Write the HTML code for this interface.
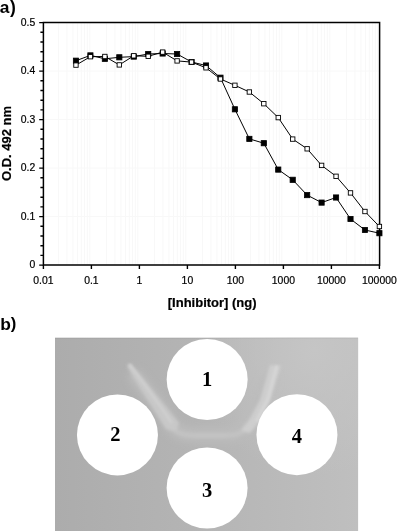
<!DOCTYPE html>
<html><head><meta charset="utf-8"><title>Figure</title>
<style>
html,body{margin:0;padding:0;background:#fff;}
body{width:397px;height:531px;overflow:hidden;position:relative;}
svg{position:absolute;left:0;top:0;display:block;}
text{font-family:"Liberation Sans",Arial,sans-serif;}
.num{font-size:10.4px;fill:#000;stroke:#000;stroke-width:0.2px;}
.ttl{font-size:13px;font-weight:bold;fill:#000;stroke:#000;stroke-width:0.2px;}
.lab{font-size:17.4px;font-weight:bold;fill:#000;}
.par{font-size:17.5px;font-weight:bold;}
.well{font-family:"Liberation Serif","Times New Roman",serif;font-size:20.5px;font-weight:bold;fill:#000;}
</style></head><body>
<svg width="397" height="531" viewBox="0 0 397 531">
<defs>
<linearGradient id="bg" x1="0" y1="0" x2="1" y2="0">
<stop offset="0" stop-color="#acacac"/><stop offset="0.45" stop-color="#b4b4b4"/><stop offset="0.8" stop-color="#bbbbbb"/><stop offset="1" stop-color="#bfbfbf"/>
</linearGradient>
<radialGradient id="tr" cx="315" cy="350" r="125" gradientUnits="userSpaceOnUse">
<stop offset="0" stop-color="#c5c5c5" stop-opacity="1"/><stop offset="0.4" stop-color="#c5c5c5" stop-opacity="0.6"/><stop offset="1" stop-color="#c6c6c6" stop-opacity="0"/>
</radialGradient>
<filter id="blur4" x="-30%" y="-30%" width="160%" height="160%"><feGaussianBlur stdDeviation="3.5"/></filter>
<filter id="blur15" x="-30%" y="-30%" width="160%" height="160%"><feGaussianBlur stdDeviation="1.4"/></filter>
<filter id="blur1" x="-30%" y="-30%" width="160%" height="160%"><feGaussianBlur stdDeviation="1"/></filter>
</defs>

<path d="M58.45 22.60V265.10M66.90 22.60V265.10M72.90 22.60V265.10M77.55 22.60V265.10M81.35 22.60V265.10M84.56 22.60V265.10M87.35 22.60V265.10M89.80 22.60V265.10M106.45 22.60V265.10M114.90 22.60V265.10M120.90 22.60V265.10M125.55 22.60V265.10M129.35 22.60V265.10M132.56 22.60V265.10M135.35 22.60V265.10M137.80 22.60V265.10M154.45 22.60V265.10M162.90 22.60V265.10M168.90 22.60V265.10M173.55 22.60V265.10M177.35 22.60V265.10M180.56 22.60V265.10M183.35 22.60V265.10M185.80 22.60V265.10M202.45 22.60V265.10M210.90 22.60V265.10M216.90 22.60V265.10M221.55 22.60V265.10M225.35 22.60V265.10M228.56 22.60V265.10M231.35 22.60V265.10M233.80 22.60V265.10M250.45 22.60V265.10M258.90 22.60V265.10M264.90 22.60V265.10M269.55 22.60V265.10M273.35 22.60V265.10M276.56 22.60V265.10M279.35 22.60V265.10M281.80 22.60V265.10M298.45 22.60V265.10M306.90 22.60V265.10M312.90 22.60V265.10M317.55 22.60V265.10M321.35 22.60V265.10M324.56 22.60V265.10M327.35 22.60V265.10M329.80 22.60V265.10M346.45 22.60V265.10M354.90 22.60V265.10M360.90 22.60V265.10M365.55 22.60V265.10M369.35 22.60V265.10M372.56 22.60V265.10M375.35 22.60V265.10M377.80 22.60V265.10M43.40 216.60H379.40M43.40 168.10H379.40M43.40 119.60H379.40M43.40 71.10H379.40" stroke="#f8f8f8" stroke-width="1" fill="none"/>
<path d="M43.40 21.85V265.85M42.65 265.10H380.35M42.65 22.60H380.35M379.60 21.85V265.85" fill="none" stroke="#000" stroke-width="1.5"/>
<polyline points="75.96,60.70 90.41,55.40 104.86,58.80 119.31,57.30 133.76,56.60 148.21,54.00 162.66,53.50 177.11,54.00 191.56,62.00 206.01,65.50 220.46,77.70 234.91,109.30 249.36,138.90 263.80,143.20 278.25,169.60 292.70,179.80 307.15,195.10 321.60,202.60 336.05,197.50 350.50,219.00 364.95,230.00 379.40,233.20" fill="none" stroke="#000" stroke-width="1"/>
<polyline points="75.96,65.10 90.41,56.70 104.86,56.50 119.31,64.90 133.76,55.80 148.21,56.30 162.66,52.10 177.11,60.90 191.56,62.10 206.01,67.80 220.46,79.00 234.91,85.30 249.36,92.00 263.80,103.70 278.25,117.60 292.70,139.10 307.15,148.80 321.60,165.40 336.05,176.30 350.50,192.90 364.95,211.50 379.40,226.50" fill="none" stroke="#000" stroke-width="1"/>
<rect x="73.36" y="58.10" width="5.2" height="5.2" fill="#000" stroke="#000" stroke-width="0.8"/>
<rect x="87.81" y="52.80" width="5.2" height="5.2" fill="#000" stroke="#000" stroke-width="0.8"/>
<rect x="102.26" y="56.20" width="5.2" height="5.2" fill="#000" stroke="#000" stroke-width="0.8"/>
<rect x="116.71" y="54.70" width="5.2" height="5.2" fill="#000" stroke="#000" stroke-width="0.8"/>
<rect x="131.16" y="54.00" width="5.2" height="5.2" fill="#000" stroke="#000" stroke-width="0.8"/>
<rect x="145.61" y="51.40" width="5.2" height="5.2" fill="#000" stroke="#000" stroke-width="0.8"/>
<rect x="160.06" y="50.90" width="5.2" height="5.2" fill="#000" stroke="#000" stroke-width="0.8"/>
<rect x="174.51" y="51.40" width="5.2" height="5.2" fill="#000" stroke="#000" stroke-width="0.8"/>
<rect x="188.96" y="59.40" width="5.2" height="5.2" fill="#000" stroke="#000" stroke-width="0.8"/>
<rect x="203.41" y="62.90" width="5.2" height="5.2" fill="#000" stroke="#000" stroke-width="0.8"/>
<rect x="217.86" y="75.10" width="5.2" height="5.2" fill="#000" stroke="#000" stroke-width="0.8"/>
<rect x="232.31" y="106.70" width="5.2" height="5.2" fill="#000" stroke="#000" stroke-width="0.8"/>
<rect x="246.76" y="136.30" width="5.2" height="5.2" fill="#000" stroke="#000" stroke-width="0.8"/>
<rect x="261.20" y="140.60" width="5.2" height="5.2" fill="#000" stroke="#000" stroke-width="0.8"/>
<rect x="275.65" y="167.00" width="5.2" height="5.2" fill="#000" stroke="#000" stroke-width="0.8"/>
<rect x="290.10" y="177.20" width="5.2" height="5.2" fill="#000" stroke="#000" stroke-width="0.8"/>
<rect x="304.55" y="192.50" width="5.2" height="5.2" fill="#000" stroke="#000" stroke-width="0.8"/>
<rect x="319.00" y="200.00" width="5.2" height="5.2" fill="#000" stroke="#000" stroke-width="0.8"/>
<rect x="333.45" y="194.90" width="5.2" height="5.2" fill="#000" stroke="#000" stroke-width="0.8"/>
<rect x="347.90" y="216.40" width="5.2" height="5.2" fill="#000" stroke="#000" stroke-width="0.8"/>
<rect x="362.35" y="227.40" width="5.2" height="5.2" fill="#000" stroke="#000" stroke-width="0.8"/>
<rect x="376.80" y="230.60" width="5.2" height="5.2" fill="#000" stroke="#000" stroke-width="0.8"/>
<rect x="73.76" y="62.90" width="4.40" height="4.40" fill="#fff" stroke="#000" stroke-width="0.9"/>
<rect x="88.21" y="54.50" width="4.40" height="4.40" fill="#fff" stroke="#000" stroke-width="0.9"/>
<rect x="102.66" y="54.30" width="4.40" height="4.40" fill="#fff" stroke="#000" stroke-width="0.9"/>
<rect x="117.11" y="62.70" width="4.40" height="4.40" fill="#fff" stroke="#000" stroke-width="0.9"/>
<rect x="131.56" y="53.60" width="4.40" height="4.40" fill="#fff" stroke="#000" stroke-width="0.9"/>
<rect x="146.01" y="54.10" width="4.40" height="4.40" fill="#fff" stroke="#000" stroke-width="0.9"/>
<rect x="160.46" y="49.90" width="4.40" height="4.40" fill="#fff" stroke="#000" stroke-width="0.9"/>
<rect x="174.91" y="58.70" width="4.40" height="4.40" fill="#fff" stroke="#000" stroke-width="0.9"/>
<rect x="189.36" y="59.90" width="4.40" height="4.40" fill="#fff" stroke="#000" stroke-width="0.9"/>
<rect x="203.81" y="65.60" width="4.40" height="4.40" fill="#fff" stroke="#000" stroke-width="0.9"/>
<rect x="218.26" y="76.80" width="4.40" height="4.40" fill="#fff" stroke="#000" stroke-width="0.9"/>
<rect x="232.71" y="83.10" width="4.40" height="4.40" fill="#fff" stroke="#000" stroke-width="0.9"/>
<rect x="247.16" y="89.80" width="4.40" height="4.40" fill="#fff" stroke="#000" stroke-width="0.9"/>
<rect x="261.60" y="101.50" width="4.40" height="4.40" fill="#fff" stroke="#000" stroke-width="0.9"/>
<rect x="276.05" y="115.40" width="4.40" height="4.40" fill="#fff" stroke="#000" stroke-width="0.9"/>
<rect x="290.50" y="136.90" width="4.40" height="4.40" fill="#fff" stroke="#000" stroke-width="0.9"/>
<rect x="304.95" y="146.60" width="4.40" height="4.40" fill="#fff" stroke="#000" stroke-width="0.9"/>
<rect x="319.40" y="163.20" width="4.40" height="4.40" fill="#fff" stroke="#000" stroke-width="0.9"/>
<rect x="333.85" y="174.10" width="4.40" height="4.40" fill="#fff" stroke="#000" stroke-width="0.9"/>
<rect x="348.30" y="190.70" width="4.40" height="4.40" fill="#fff" stroke="#000" stroke-width="0.9"/>
<rect x="362.75" y="209.30" width="4.40" height="4.40" fill="#fff" stroke="#000" stroke-width="0.9"/>
<rect x="377.20" y="224.30" width="4.40" height="4.40" fill="#fff" stroke="#000" stroke-width="0.9"/>
<path d="M39.20 265.10H43.40M40.40 255.40H43.40M40.40 245.70H43.40M40.40 236.00H43.40M40.40 226.30H43.40M39.20 216.60H43.40M40.40 206.90H43.40M40.40 197.20H43.40M40.40 187.50H43.40M40.40 177.80H43.40M39.20 168.10H43.40M40.40 158.40H43.40M40.40 148.70H43.40M40.40 139.00H43.40M40.40 129.30H43.40M39.20 119.60H43.40M40.40 109.90H43.40M40.40 100.20H43.40M40.40 90.50H43.40M40.40 80.80H43.40M39.20 71.10H43.40M40.40 61.40H43.40M40.40 51.70H43.40M40.40 42.00H43.40M40.40 32.30H43.40M39.20 22.60H43.40M43.40 265.10V268.90M91.40 265.10V268.90M139.40 265.10V268.90M187.40 265.10V268.90M235.40 265.10V268.90M283.40 265.10V268.90M331.40 265.10V268.90M379.40 265.10V268.90" stroke="#000" stroke-width="1.4" fill="none"/>
<text class="num" x="35.2" y="268.00" text-anchor="end">0</text>
<text class="num" x="35.2" y="219.50" text-anchor="end">0.1</text>
<text class="num" x="35.2" y="171.00" text-anchor="end">0.2</text>
<text class="num" x="35.2" y="122.50" text-anchor="end">0.3</text>
<text class="num" x="35.2" y="74.00" text-anchor="end">0.4</text>
<text class="num" x="35.2" y="25.50" text-anchor="end">0.5</text>
<text class="num" x="43.40" y="284.0" text-anchor="middle">0.01</text>
<text class="num" x="91.40" y="284.0" text-anchor="middle">0.1</text>
<text class="num" x="139.40" y="284.0" text-anchor="middle">1</text>
<text class="num" x="187.40" y="284.0" text-anchor="middle">10</text>
<text class="num" x="235.40" y="284.0" text-anchor="middle">100</text>
<text class="num" x="283.40" y="284.0" text-anchor="middle">1000</text>
<text class="num" x="331.40" y="284.0" text-anchor="middle">10000</text>
<text class="num" x="379.40" y="284.0" text-anchor="middle">100000</text>
<text class="ttl" x="212.2" y="306.6" text-anchor="middle">[Inhibitor] (ng)</text>
<text class="ttl" transform="translate(11.3,143.5) rotate(-90)" text-anchor="middle">O.D. 492 nm</text>
<text class="lab" x="-0.3" y="12.6">a<tspan class="par" x="10.0" y="13.0">)</tspan></text>
<text class="lab" x="0.2" y="329.8">b<tspan class="par" x="10.7" y="329.0" style="font-size:16.6px">)</tspan></text>
<rect x="55.0" y="337.7" width="303.1" height="194" fill="url(#bg)"/>
<rect x="55.0" y="337.7" width="303.1" height="194" fill="url(#tr)"/>
<rect x="55.0" y="337.7" width="303.1" height="1" fill="#000" opacity="0.05"/>
<g filter="url(#blur4)" fill="none" stroke-linecap="round" stroke-linejoin="round"><path d="M136 377 C146 390 160 407 172 426 Q178 434 192 435 L228 435 Q242 434 247 426 L252 418 L270 380" stroke="#bcbcbc" stroke-width="14"/></g>
<g filter="url(#blur15)"><path d="M127.5 364 L131 363.5 C144 380 163 403 179 423 L176 432 L166 429 C156 412 142 392 127.5 367 Z" fill="#c8c8c8"/><path d="M270 365 L281 365.5 L270.5 400 L261 420 L250 433 L240 431 L249 420 L260 400 Z" fill="#cecece"/><path d="M176 431 Q182 435.5 195 435.5 L226 435.5 Q238 435.5 243 431" stroke="#c2c2c2" stroke-width="5" fill="none"/></g>
<g filter="url(#blur1)" fill="none" stroke-linecap="round"><path d="M130 365.5 C142 381 159 404 171 422" stroke="#cfcfcf" stroke-width="2.5"/><path d="M276.5 367 L267.5 400 L257 420" stroke="#d6d6d6" stroke-width="3"/></g>
<circle cx="207.15" cy="379.5" r="40.5" fill="#fff"/>
<circle cx="117.45" cy="434.9" r="40.5" fill="#fff"/>
<circle cx="207.1" cy="488.0" r="40.5" fill="#fff"/>
<circle cx="296.95" cy="434.7" r="40.5" fill="#fff"/>
<text class="well" x="207.2" y="385.8" text-anchor="middle">1</text>
<text class="well" x="115.3" y="440.6" text-anchor="middle">2</text>
<text class="well" x="207.1" y="496.6" text-anchor="middle">3</text>
<text class="well" x="296.8" y="443.0" text-anchor="middle">4</text>
</svg></body></html>
